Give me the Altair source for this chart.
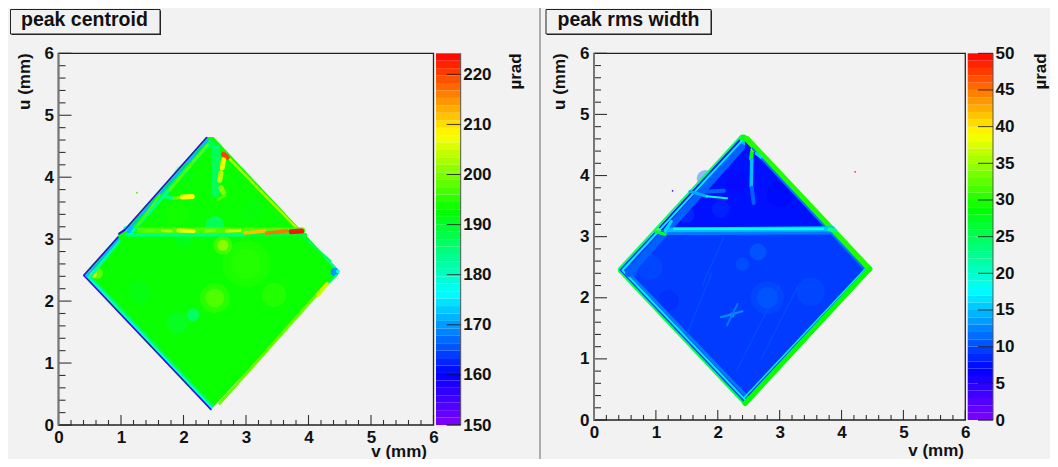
import altair as alt
import pandas as pd

W, H = 1042, 451
BG = "#f2f2f2"
INK = "#111111"
FONT = "Liberation Sans"

stops_color = ["#8000ff", "#0000ff", "#00ffff", "#00ff00", "#ffff00", "#ff0000"]

# ---- axis values
major = [0, 1, 2, 3, 4, 5, 6]
minor = [0.2, 0.4, 0.6, 0.8, 1.2, 1.4, 1.6, 1.8, 2.2, 2.4, 2.6, 2.8, 3.2, 3.4, 3.6, 3.8,
         4.2, 4.4, 4.6, 4.8, 5.2, 5.4, 5.6, 5.8]
lbar_ticks = [150, 160, 170, 180, 190, 200, 210, 220]
rbar_ticks = [0, 5, 10, 15, 20, 25, 30, 35, 40, 45, 50]
lbar_lo = [150 + i * 74.2 / 50 for i in range(50)]
lbar_hi = [150 + (i + 1) * 74.2 / 50 for i in range(50)]
rbar_lo = [float(i) for i in range(50)]
rbar_hi = [float(i + 1) for i in range(50)]

# ---- left map: crystal outline
l_v = [0.39, 0.93, 0.97, 1.06, 2.36, 2.43, 2.48, 4.50]
l_hi = [2.42, 3.03, 3.09, 3.17, 4.65, 4.65, 4.65, 2.48]
l_lo = [2.42, 1.843, 1.80, 1.704, 0.315, 0.24, 0.294, 2.48]
l_val = [193.2] * 8

# ---- left map: soft patches
lb_v = [3.0, 3.0, 2.5, 2.5, 3.45, 1.3, 1.9, 2.15, 2.63, 2.63, 2.0, 2.5, 2.44, 2.52, 0.55, 0.62, 4.42, 4.47, 1.14, 1.08, 2.43, 1.256, 1.9, 3.1, 2.0]
lb_u = [2.6, 2.6, 2.05, 2.05, 2.1, 2.15, 1.65, 1.78, 2.9, 2.9, 3.0, 3.22, 4.54, 4.45, 2.44, 2.45, 2.47, 2.48, 3.15, 3.17, 0.27, 3.75, 3.4, 3.45, 4.05]
lb_val = [197, 197, 199, 201, 198, 189, 187, 182, 199, 203, 188, 180, 187, 180, 208, 203, 170, 178, 172, 180, 214, 197, 195, 191, 190]
lb_s = [2200, 900, 900, 350, 600, 500, 450, 160, 350, 120, 300, 350, 70, 60, 70, 130, 70, 15, 50, 30, 6, 4, 500, 500, 350]
lb_op = [0.25, 0.25, 0.3, 0.4, 0.3, 0.3, 0.35, 0.6, 0.5, 0.7, 0.35, 0.45, 0.8, 0.7, 0.95, 0.5, 1, 1, 1, 0.8, 1, 1, 0.3, 0.3, 0.3]

# ---- left map: edges and line features
ls_v1 = [0.50, 0.45, 0.41, 0.50, 0.45, 0.41, 1.18, 1.11, 1.07, 0.97, 1.25, 1.78, 2.74, 2.58, 4.15, 4.33, 4.25, 3.90,
         1.30, 2.52, 1.08, 3.00, 1.41, 1.66, 1.92, 2.36, 2.69, 2.98, 3.33, 3.72,
         2.64, 2.64, 2.60, 2.60, 2.55, 1.72, 1.85, 1.98]
ls_u1 = [2.40, 2.42, 2.41, 2.38, 2.40, 2.42, 3.12, 3.14, 3.16, 3.09, 3.20, 3.79, 4.29, 0.35, 2.10, 2.30, 2.72, 3.05,
         3.14, 4.40, 3.07, 3.07, 3.14, 3.14, 3.14, 3.13, 3.13, 3.10, 3.10, 3.12,
         4.37, 4.28, 4.07, 3.83, 3.64, 3.68, 3.66, 3.68]
ls_v2 = [2.46, 2.45, 2.44, 0.97, 0.96, 0.95, 2.40, 2.39, 2.37, 1.06, 1.62, 2.38, 3.81, 4.25, 4.30, 4.45, 4.42, 4.35,
         3.90, 2.52, 3.00, 3.95, 1.52, 1.80, 2.16, 2.50, 2.90, 3.30, 3.65, 3.89,
         2.70, 2.62, 2.58, 2.64, 2.66, 1.85, 2.00, 2.14]
ls_u2 = [0.31, 0.28, 0.25, 2.97, 3.00, 3.03, 4.52, 4.60, 4.64, 3.15, 3.71, 4.52, 3.18, 2.24, 2.28, 2.42, 2.55, 2.65,
         3.14, 3.75, 3.07, 3.07, 3.14, 3.13, 3.13, 3.14, 3.14, 3.13, 3.13, 3.13,
         4.32, 4.15, 3.95, 3.75, 3.70, 3.66, 3.68, 3.69]
ls_val = [187, 179, 155, 183, 172, 155, 183, 172, 155, 155, 197, 198, 203, 199, 205, 186, 182, 187,
          197, 187, 184, 189, 199, 203, 207, 201, 205, 212, 217, 223,
          220, 207, 204, 201, 197, 183, 199, 208]
ls_w = [3, 2, 1.6, 3, 2, 1.6, 3, 2, 1.6, 2, 2, 2.5, 2.5, 3, 4, 2, 2, 2,
        6, 9, 3.5, 3.5, 3, 3, 4, 3, 3, 3.5, 3.5, 5,
        5, 5, 5, 5, 3, 3, 3, 5]

# ---- right map: crystal outline, split at the horizontal line
rt_v = [1.00, 2.36, 2.40, 2.48, 3.87]
rt_hi = [3.10, 4.64, 4.66, 4.64, 3.10]
rt_lo = [3.10, 3.10, 3.10, 3.10, 3.10]
rt_val = [7.6] * 5
rl_v = [0.39, 1.00, 2.45, 3.87, 4.50]
rl_hi = [2.455, 3.10, 3.10, 3.10, 2.48]
rl_lo = [2.455, 1.80, 0.235, 1.79, 2.48]
rl_val = [9.4] * 5

# ---- right map: soft patches
rb_v = [2.8, 2.8, 3.5, 2.65, 2.4, 0.9, 0.6, 1.8, 2.3, 3.0, 2.05, 1.5, 1.2, 2.41, 2.40, 2.57, 1.04, 4.22, 1.27, 2.23]
rb_u = [2.0, 2.0, 2.1, 2.75, 2.55, 2.5, 2.45, 3.95, 3.9, 3.7, 3.45, 3.35, 1.95, 4.61, 4.52, 4.42, 3.10, 4.06, 3.75, 1.72]
rb_val = [11, 12, 11, 12, 12, 11, 12, 11, 6, 6.9, 10, 10, 8, 28, 15, 40, 34, 48, 2, 15]
rb_s = [1100, 450, 800, 280, 180, 650, 180, 300, 400, 700, 300, 220, 450, 60, 30, 25, 25, 3, 3, 25]
rb_op = [0.3, 0.3, 0.3, 0.4, 0.3, 0.3, 0.4, 0.4, 0.4, 0.4, 0.3, 0.4, 0.3, 1, 0.9, 1, 1, 1, 1, 0.7]

# ---- right map: edges and line features
rs_v1 = [0.54, 0.47, 0.40, 0.56, 0.46, 0.40, 2.47, 2.56, 2.42, 2.44,
         1.18, 1.30, 1.20, 1.15, 3.80, 1.00,
         2.55, 2.55, 2.55, 2.62, 1.55, 1.82, 1.78,
         2.05, 2.15, 1.50, 2.30, 1.75, 2.70]
rs_u1 = [2.42, 2.44, 2.44, 2.40, 2.45, 2.47, 4.60, 4.44, 0.36, 0.27,
         3.10, 3.13, 3.05, 3.10, 3.12, 3.08,
         4.38, 4.26, 3.80, 4.36, 3.74, 3.66, 3.74,
         1.68, 1.55, 1.40, 0.80, 2.20, 1.00]
rs_v2 = [2.50, 2.47, 2.44, 2.38, 2.39, 2.37, 4.45, 4.38, 4.38, 4.45,
         3.85, 3.70, 3.80, 1.25, 3.90, 1.15,
         2.54, 2.54, 2.58, 2.70, 1.82, 2.15, 2.10,
         2.40, 2.32, 1.90, 3.00, 2.10, 3.30]
rs_u2 = [0.35, 0.30, 0.25, 4.46, 4.57, 4.64, 2.47, 2.46, 2.47, 2.47,
         3.12, 3.13, 3.06, 3.25, 3.10, 3.04,
         4.27, 3.82, 3.55, 4.30, 3.66, 3.63, 3.75,
         1.78, 1.90, 2.40, 2.20, 3.00, 2.20]
rs_val = [12, 17, 25, 11, 17, 24, 30, 12, 17, 29,
          15, 18.5, 12, 16, 22, 27,
          28, 15, 11, 16, 14, 18, 11,
          13, 12, 10.5, 10.5, 10.5, 10.5]
rs_w = [3, 2, 2, 7, 2, 2, 6, 2, 1.5, 5,
        6, 2.5, 3, 3, 4, 3,
        4, 3.5, 4, 3, 3, 2, 4,
        2, 2, 1, 1, 1, 1]

frame_lo, frame_hi = [0], [6]


def panel(xr, yr, bar_x, bar_dom, color_dom, bar_ticks, bar_lo, bar_hi, areas, blobs, segs, tick_x0):
    xs = alt.Scale(domain=[0, 6], range=xr, nice=False, zero=False)
    ys = alt.Scale(domain=[0, 6], range=yr, nice=False, zero=False)
    bs = alt.Scale(domain=bar_dom, range=yr, nice=False, zero=False)
    cs = alt.Scale(domain=color_dom, range=stops_color, interpolate="rgb", clamp=True)
    col = alt.Color("val:Q", scale=cs, legend=None)
    xq = dict(scale=xs, axis=None)
    yq = dict(scale=ys, axis=None)
    bottom, left = yr[0], xr[0]
    layers = []
    for a_v, a_hi, a_lo, a_val in areas:
        layers.append(
            alt.Chart(pd.DataFrame({"v": a_v, "hi": a_hi, "lo": a_lo, "val": a_val}))
            .mark_area(interpolate="linear", opacity=1)
            .encode(x=alt.X("v:Q", **xq), y=alt.Y("hi:Q", stack=None, **yq), y2="lo:Q", color=col)
        )
    b_v, b_u, b_val, b_s, b_op = blobs
    layers.append(
        alt.Chart(pd.DataFrame({"v": b_v, "u": b_u, "val": b_val, "s": b_s, "op": b_op}))
        .mark_circle(stroke=None)
        .encode(x=alt.X("v:Q", **xq), y=alt.Y("u:Q", **yq), color=col,
                size=alt.Size("s:Q", scale=None, legend=None),
                opacity=alt.Opacity("op:Q", scale=None, legend=None))
    )
    s1, s2, s3, s4, s5, s6 = segs
    layers.append(
        alt.Chart(pd.DataFrame({"v1": s1, "u1": s2, "v2": s3, "u2": s4, "val": s5, "w": s6, "o": list(range(len(s1)))}))
        .mark_rule(strokeCap="round")
        .encode(x=alt.X("v1:Q", **xq), y=alt.Y("u1:Q", **yq), x2="v2:Q", y2="u2:Q", color=col,
                strokeWidth=alt.StrokeWidth("w:Q", scale=None, legend=None), order="o:Q")
    )
    # inward ticks of the frame
    for vals, xlen, ylen in ((major, 10, 13), (minor, 5, 7)):
        t = pd.DataFrame({"t": vals})
        layers.append(alt.Chart(t).mark_rule(color="#333333", strokeWidth=1.1).encode(
            x=alt.X("t:Q", **xq), y=alt.value(bottom), y2=alt.value(bottom - xlen)))
        layers.append(alt.Chart(t).mark_rule(color="#333333", strokeWidth=1.1).encode(
            y=alt.Y("t:Q", **yq), x=alt.value(left), x2=alt.value(left + ylen)))
    # frame
    fr = pd.DataFrame({"a": frame_lo, "b": frame_hi})
    layers.append(alt.Chart(fr).mark_rect(fill="transparent", stroke="#222222", strokeWidth=1.3).encode(
        x=alt.X("a:Q", **xq), x2="b:Q", y=alt.Y("a:Q", **yq), y2="b:Q"))
    layers.append(alt.Chart(fr).mark_rule(color="#777777", strokeWidth=2).encode(
        x=alt.X("a:Q", **xq), y=alt.Y("a:Q", **yq), y2="b:Q"))
    # real axes carry the tick labels
    layers.append(alt.Chart(pd.DataFrame({"t": major})).mark_point(opacity=0).encode(
        x=alt.X("t:Q", scale=xs, axis=alt.Axis(values=major, orient="bottom", offset=bottom - H,
                                               title=None, format="d", labelPadding=4)),
        y=alt.Y("t:Q", scale=ys, axis=alt.Axis(values=major, orient="left", offset=-(left - 5),
                                               title=None, format="d", labelPadding=0)),
    ))
    plot = alt.layer(*layers).resolve_axis(x="independent", y="independent")

    bar_x0, bar_x1 = bar_x
    bcol = alt.Color("mid:Q", scale=cs, legend=None)
    bd = pd.DataFrame({"lo": bar_lo, "hi": bar_hi})
    bd["mid"] = (bd["lo"] + bd["hi"]) / 2
    bar = alt.Chart(bd).mark_rect(strokeWidth=0).encode(
        x=alt.value(bar_x0), x2=alt.value(bar_x1),
        y=alt.Y("lo:Q", scale=bs, axis=None), y2="hi:Q", color=bcol)
    edge = alt.Chart(pd.DataFrame({"a": [bar_dom[0]], "b": [bar_dom[1]]})).mark_rule(color="#555555", strokeWidth=1).encode(
        x=alt.value(bar_x1), y=alt.Y("a:Q", scale=bs, axis=None), y2="b:Q")
    base = alt.Chart(pd.DataFrame({"a": [bar_dom[0]]})).mark_rule(color="#444444", strokeWidth=1).encode(
        y=alt.Y("a:Q", scale=bs, axis=None), x=alt.value(tick_x0), x2=alt.value(bar_x1))
    ticks = alt.Chart(pd.DataFrame({"t": bar_ticks})).mark_rule(color="#111111", strokeWidth=1, opacity=0.8).encode(
        y=alt.Y("t:Q", scale=bs, axis=alt.Axis(values=bar_ticks, orient="right", offset=bar_x1 - W,
                                               title=None, format="d", labelPadding=2)),
        x=alt.value(tick_x0), x2=alt.value(bar_x1))
    return plot, alt.layer(bar, edge, base, ticks).resolve_axis(y="independent")


lp, lb = panel([50.5, 425.5], [417, 45.3], (428, 452.7), [150, 224.2],
               [150, 160.3, 176.3, 192.6, 207.9, 224.2], lbar_ticks, lbar_lo, lbar_hi,
               [(l_v, l_hi, l_lo, l_val)],
               (lb_v, lb_u, lb_val, lb_s, lb_op),
               (ls_v1, ls_u1, ls_v2, ls_u2, ls_val, ls_w), 438.7)
rp, rb = panel([586, 957.3], [412, 45.3], (959.7, 985), [0, 50],
               [0, 6.9, 17.7, 28.7, 39, 50], rbar_ticks, rbar_lo, rbar_hi,
               [(rt_v, rt_hi, rt_lo, rt_val), (rl_v, rl_hi, rl_lo, rl_val)],
               (rb_v, rb_u, rb_val, rb_s, rb_op),
               (rs_v1, rs_u1, rs_v2, rs_u2, rs_val, rs_w), 970)

one = pd.DataFrame({"a": [0]})


def label(s, x, y, size=17, angle=0, align="left", baseline="middle", weight="bold", color=INK):
    return alt.Chart(one).mark_text(text=s, font=FONT, fontSize=size, fontWeight=weight, angle=angle,
                                    align=align, baseline=baseline, color=color).encode(
        x=alt.value(x), y=alt.value(y))


def box(x0, y0, x1, y1):
    shadow = alt.Chart(one).mark_rect(fill="#222222").encode(
        x=alt.value(x0 + 1), x2=alt.value(x1 + 1), y=alt.value(y0 + 1), y2=alt.value(y1 + 1))
    face = alt.Chart(one).mark_rect(fill=BG, stroke="#222222", strokeWidth=1).encode(
        x=alt.value(x0), x2=alt.value(x1), y=alt.value(y0), y2=alt.value(y1))
    return shadow + face


furniture = [
    alt.Chart(one).mark_rule(color="#ababab", strokeWidth=2).encode(x=alt.value(532), y=alt.value(0), y2=alt.value(H)),
    box(2.5, 1.5, 152, 26), box(538, 1.5, 703, 26),
    label("peak centroid", 13, 12, size=19.5), label("peak rms width", 549.5, 12, size=19.5),
    label("u (mm)", 16.5, 45.3, angle=270, align="right"), label("v (mm)", 419, 443.5, align="right"),
    label("µrad", 508, 45.3, angle=270, align="right"),
    label("u (mm)", 552, 45.3, angle=270, align="right"), label("v (mm)", 956, 442.5, align="right"),
    label("µrad", 1033, 45.3, angle=270, align="right"),
    label("rocking curve of plate D in 4/2011, before laser ablation was carried out on this sample",
          -22, -5, size=22, baseline="alphabetic", weight="normal", color="#000000"),
]

chart = (
    alt.layer(lp, lb, rp, rb, *furniture)
    .resolve_scale(x="independent", y="independent", color="independent")
    .properties(width=W, height=H, padding=0, background=BG,
                autosize=alt.AutoSizeParams(type="none"))
    .configure_view(stroke=None, fill=None)
    .configure_axis(grid=False, domain=False, ticks=False, labelFont=FONT, labelFontSize=17,
                    labelFontWeight="bold", labelColor=INK, labelOverlap=False, labelBound=False,
                    labelFlush=False)
)

chart.save("out.html", embed_options={"renderer": "svg", "actions": False})
